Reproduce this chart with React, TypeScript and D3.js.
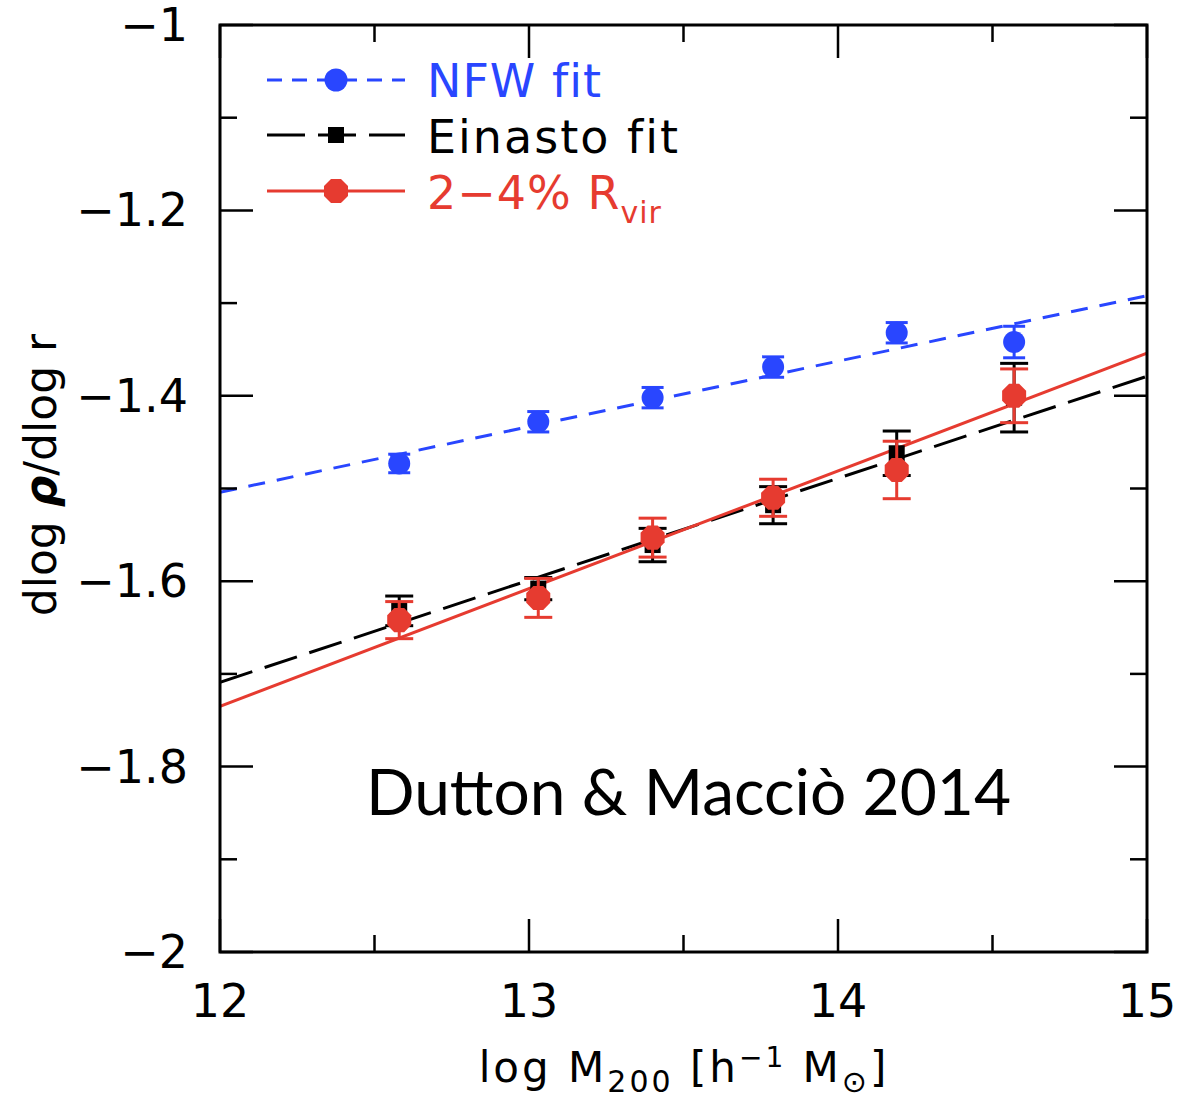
import React from "react";
import * as d3 from "d3";

const massX = [12.58, 13.03, 13.4, 13.79, 14.19, 14.57];
const nfwY = [-1.473, -1.428, -1.402, -1.369, -1.332, -1.342];
const nfwErr = [0.01, 0.011, 0.011, 0.011, 0.011, 0.017];
const einY = [-1.632, -1.608, -1.561, -1.518, -1.462, -1.402];
const einErr = [0.016, 0.012, 0.018, 0.02, 0.024, 0.037];
const redY = [-1.642, -1.618, -1.553, -1.51, -1.48, -1.4];
const redErr = [0.02, 0.021, 0.021, 0.02, 0.031, 0.029];
const lineX = [12, 15];
const nfwFit = [-1.504, -1.292];
const einFit = [-1.709, -1.379];
const redFit = [-1.735, -1.354];
const xTicks = [12, 13, 14, 15];
const xMinor = [12.5, 13.5, 14.5];
const yTicks = [-1, -1.2, -1.4, -1.6, -1.8, -2];
const yMinor = [-1.1, -1.3, -1.5, -1.7, -1.9];

const BLUE = "#2946ff";
const RED = "#e63b30";
const FONT = "DejaVu Sans";

const L = 220, T = 25, W = 927, H = 927;

export default function App() {
  const x = d3.scaleLinear().domain([12, 15]).range([L, L + W]);
  const y = d3.scaleLinear().domain([-2, -1]).range([T + H, T]);
  const line = d3.line<[number, number]>().x((d) => x(d[0])).y((d) => y(d[1]));
  const fitPts = (v: number[]) => lineX.map((xx, i) => [xx, v[i]] as [number, number]);

  const hexPath = (cx: number, cy: number, r: number) => {
    const pts = d3.range(8).map((k) => {
      const a = (Math.PI / 8) + (k * Math.PI) / 4;
      return [cx + r * Math.cos(a), cy + r * Math.sin(a)];
    });
    return "M" + pts.map((p) => p.join(",")).join("L") + "Z";
  };

  const errBar = (xv: number, yv: number, e: number, color: string, key: string, cap = 13) => (
    <g key={key} stroke={color} strokeWidth={3}>
      <line x1={x(xv)} x2={x(xv)} y1={y(yv - e)} y2={y(yv + e)} />
      <line x1={x(xv) - cap} x2={x(xv) + cap} y1={y(yv - e)} y2={y(yv - e)} />
      <line x1={x(xv) - cap} x2={x(xv) + cap} y1={y(yv + e)} y2={y(yv + e)} />
    </g>
  );

  const majorLen = 33, minorLen = 17;

  return (
    <svg width={1183} height={1101} style={{ position: "absolute", left: 0, top: 0, background: "#fff" }}>
      <rect x={0} y={0} width={1183} height={1101} fill="#fff" />
      <defs>
        <clipPath id="plotclip">
          <rect x={L} y={T} width={W} height={H} />
        </clipPath>
      </defs>

      {/* fit lines */}
      <g clipPath="url(#plotclip)" fill="none" strokeWidth={3}>
        <path d={line(fitPts(nfwFit)) || ""} stroke={BLUE} strokeDasharray="17 12" />
        <path d={line(fitPts(einFit)) || ""} stroke="#000" strokeDasharray="34 13" />
        <path d={line(fitPts(redFit)) || ""} stroke={RED} />
      </g>

      {/* NFW points */}
      {massX.map((xv, i) => errBar(xv, nfwY[i], nfwErr[i], BLUE, "be" + i, 11))}
      {massX.map((xv, i) => (
        <circle key={"bc" + i} cx={x(xv)} cy={y(nfwY[i])} r={11} fill={BLUE} />
      ))}

      {/* Einasto points */}
      {massX.map((xv, i) => errBar(xv, einY[i], einErr[i], "#000", "ke" + i, 14))}
      {massX.map((xv, i) => (
        <rect key={"ks" + i} x={x(xv) - 8} y={y(einY[i]) - 8} width={16} height={16} fill="#000" />
      ))}

      {/* red points */}
      {massX.map((xv, i) => errBar(xv, redY[i], redErr[i], RED, "re" + i, 14))}
      {massX.map((xv, i) => (
        <path key={"rc" + i} d={hexPath(x(xv), y(redY[i]), 13)} fill={RED} />
      ))}

      {/* frame */}
      <rect x={L} y={T} width={W} height={H} fill="none" stroke="#000" strokeWidth={3} />
      <g stroke="#000" strokeWidth={2.5}>
        {xTicks.map((t) => (
          <g key={"xt" + t}>
            <line x1={x(t)} x2={x(t)} y1={T + H} y2={T + H - majorLen} />
            <line x1={x(t)} x2={x(t)} y1={T} y2={T + majorLen} />
          </g>
        ))}
        {xMinor.map((t) => (
          <g key={"xm" + t}>
            <line x1={x(t)} x2={x(t)} y1={T + H} y2={T + H - minorLen} />
            <line x1={x(t)} x2={x(t)} y1={T} y2={T + minorLen} />
          </g>
        ))}
        {yTicks.map((t) => (
          <g key={"yt" + t}>
            <line x1={L} x2={L + majorLen} y1={y(t)} y2={y(t)} />
            <line x1={L + W} x2={L + W - majorLen} y1={y(t)} y2={y(t)} />
          </g>
        ))}
        {yMinor.map((t) => (
          <g key={"ym" + t}>
            <line x1={L} x2={L + minorLen} y1={y(t)} y2={y(t)} />
            <line x1={L + W} x2={L + W - minorLen} y1={y(t)} y2={y(t)} />
          </g>
        ))}
      </g>

      {/* tick labels */}
      <g fontFamily={FONT} fontSize={46} fill="#000">
        {xTicks.map((t) => (
          <text key={"xl" + t} x={x(t)} y={1017} textAnchor="middle">{d3.format("d")(t)}</text>
        ))}
        {yTicks.map((t) => (
          <text key={"yl" + t} x={188} y={y(t) + 16} textAnchor="end">
            {t === -1 || t === -2 ? "\u2212" + Math.abs(t) : "\u2212" + d3.format(".1f")(Math.abs(t))}
          </text>
        ))}
      </g>

      {/* axis labels */}
      <text x={684} y={1082} textAnchor="middle" fontFamily={FONT} fontSize={42} letterSpacing={3} fill="#000">
        log M<tspan fontSize={30} dy={10}>200</tspan>
        <tspan dy={-10}> [h</tspan>
        <tspan fontSize={28} dy={-15}>{"\u22121"}</tspan>
        <tspan dy={15}> M</tspan>
        <tspan fontSize={30} dy={10}>{"\u2299"}</tspan>
        <tspan dy={-10}>]</tspan>
      </text>
      <text transform="translate(56,475) rotate(-90)" textAnchor="middle" fontFamily={FONT} fontSize={44} fill="#000">
        dlog <tspan fontStyle="italic" fontWeight="bold">{"\u03C1"}</tspan>/dlog r
      </text>

      {/* legend */}
      <g strokeWidth={3} fill="none">
        <line x1={267} x2={405} y1={80} y2={80} stroke={BLUE} strokeDasharray="15 10" />
        <line x1={267} x2={405} y1={135} y2={135} stroke="#000" strokeDasharray="38 13" />
        <line x1={267} x2={405} y1={191} y2={191} stroke={RED} />
      </g>
      <circle cx={336} cy={80} r={11.5} fill={BLUE} />
      <rect x={328} y={127} width={16} height={16} fill="#000" />
      <path d={hexPath(336, 191, 13)} fill={RED} />
      <g fontFamily={FONT} fontSize={46}>
        <text x={427} y={97} fill={BLUE} letterSpacing={1}>NFW fit</text>
        <text x={427} y={153} fill="#000" letterSpacing={2}>Einasto fit</text>
        <text x={427} y={209} fill={RED} letterSpacing={1}>
          2{"\u2212"}4% R<tspan fontSize={30} dy={14}>vir</tspan>
        </text>
      </g>

      {/* annotation */}
      <text x={366} y={815} fontFamily="Lato" fontSize={64} fill="#000">
        Dutton &amp; Macciò 2014
      </text>
    </svg>
  );
}
